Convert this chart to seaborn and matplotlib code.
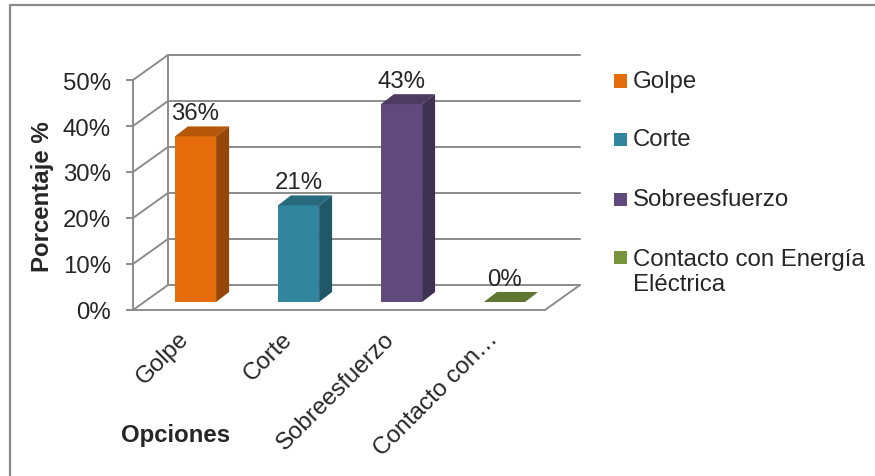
import matplotlib
matplotlib.use("Agg")
import matplotlib.pyplot as plt
import seaborn as sns
from matplotlib.transforms import ScaledTranslation, IdentityTransform
from matplotlib.patches import Polygon, Rectangle
from matplotlib.lines import Line2D
import matplotlib.colors as mcolors

# Chart data
categories = ["Golpe", "Corte", "Sobreesfuerzo", "Contacto con Energía Eléctrica"]
tick_labels = ["Golpe", "Corte", "Sobreesfuerzo", "Contacto con…"]
values = [36, 21, 43, 0]
value_labels = ["36%", "21%", "43%", "0%"]
colors = ["#E46C0A", "#31859C", "#604A7B", "#77933C"]
y_ticks = [0, 10, 20, 30, 40, 50]

sns.set_style("white")
plt.rcParams["font.family"] = ["Liberation Sans", "DejaVu Sans"]

FS = 17.3
GRID = "#8C8C8C"

fig = plt.figure(figsize=(8.75, 4.77), dpi=100)
W, H = 875, 477
ax = fig.add_axes([133 / W, (H - 311) / H, 412 / W, 230 / H])

sns.barplot(x=categories, y=values, hue=categories, palette=colors,
            width=0.4, saturation=1, legend=False, ax=ax, zorder=3)

ax.set_xlim(-0.5, 3.5)
ax.set_ylim(0, 50)

# depth offsets in pixels: bar front, bar depth, back wall
BAR_DX, BAR_DY = 11, 8
DEP_DX, DEP_DY = 13, 10
WALL_DX, WALL_DY = 35, 25


def P(x, y, dx=0, dy=0):
    X, Y = ax.transData.transform((x, y))
    return X + dx, Y + dy


def seg(p0, p1, **kw):
    ln = Line2D([p0[0], p1[0]], [p0[1], p1[1]], transform=IdentityTransform(),
                color=GRID, lw=1.4, clip_on=False, zorder=1, **kw)
    ax.add_line(ln)


# walls and floor
for t in y_ticks:
    seg(P(-0.5, t), P(-0.5, t, WALL_DX, WALL_DY))
    seg(P(-0.5, t, WALL_DX, WALL_DY), P(3.5, t, WALL_DX, WALL_DY))
seg(P(-0.5, 0, WALL_DX, WALL_DY), P(-0.5, 50, WALL_DX, WALL_DY))
seg(P(-0.5, 0), P(3.5, 0))
seg(P(3.5, 0), P(3.5, 0, WALL_DX, WALL_DY))


def shade(c, f):
    r, g, b = mcolors.to_rgb(c)
    return (r * f, g * f, b * f)


shift = ScaledTranslation(BAR_DX / 100, BAR_DY / 100, fig.dpi_scale_trans)
for p, col, v, lab in zip(ax.patches, colors, values, value_labels):
    x0, w, h = p.get_x(), p.get_width(), p.get_height()
    p.set_transform(ax.transData + shift)
    p.set_edgecolor("none")
    L, B = P(x0, 0, BAR_DX, BAR_DY)
    R, T = P(x0 + w, h, BAR_DX, BAR_DY)
    top = Polygon([(L, T), (R, T), (R + DEP_DX, T + DEP_DY), (L + DEP_DX, T + DEP_DY)],
                  closed=True, transform=IdentityTransform(),
                  facecolor=shade(col, 0.8), edgecolor="none", zorder=3, clip_on=False)
    ax.add_patch(top)
    if h > 0:
        side = Polygon([(R, B), (R + DEP_DX, B + DEP_DY), (R + DEP_DX, T + DEP_DY), (R, T)],
                       closed=True, transform=IdentityTransform(),
                       facecolor=shade(col, 0.66), edgecolor="none", zorder=3, clip_on=False)
        ax.add_patch(side)
    cx = x0 + w / 2
    ax.text(cx, v, lab, fontsize=FS, ha="center", va="baseline",
            transform=ax.transData + ScaledTranslation((BAR_DX) / 100, 25 / 100, fig.dpi_scale_trans),
            zorder=5)

# category labels
for i, lab in enumerate(tick_labels):
    ax.text(i, 0, lab, fontsize=FS, rotation=45, ha="right", va="center",
            rotation_mode="anchor",
            transform=ax.transData + ScaledTranslation(1 / 100, -25 / 100, fig.dpi_scale_trans))

ax.set_xlim(-0.5, 3.5)
ax.set_ylim(0, 50)
ax.set_xticks([])
ax.set_yticks(y_ticks)
ax.set_yticklabels([f"{t}%" for t in y_ticks])
ax.set_xlabel("")
ax.set_ylabel("")
for s in ["top", "right", "bottom"]:
    ax.spines[s].set_visible(False)
ax.spines["left"].set_color(GRID)
ax.spines["left"].set_linewidth(1.4)
ax.tick_params(axis="y", left=True, length=5, width=1.4, color=GRID,
               pad=11, labelsize=FS)
ax.patch.set_alpha(0)

fig.text(43 / W, 1 - 197 / H, "Porcentaje %", rotation=90, fontsize=FS,
         fontweight="bold", ha="center", va="center")
fig.text(176 / W, 1 - 436 / H, "Opciones", fontsize=FS, fontweight="bold",
         ha="center", va="center")

# legend
leg_y = [82, 140, 200, 272.5]
for lab, col, y in zip(categories, colors, leg_y):
    sq_y = y if y != 272.5 else 258
    fig.patches.append(Rectangle((614 / W, 1 - (sq_y + 6.5) / H), 13 / W, 13 / H,
                                 transform=fig.transFigure, facecolor=col,
                                 edgecolor="none"))
    text = lab.replace("Energía ", "Energía\n")
    fig.text(633 / W, 1 - y / H, text, fontsize=FS, ha="left", va="center",
             linespacing=1.2)

# outer frame
fig.add_artist(Line2D([10 / W, 10 / W], [0, 1 - 6 / H], transform=fig.transFigure,
                      color="#8A8A8A", lw=1.6))
fig.add_artist(Line2D([10 / W, 1], [1 - 6 / H, 1 - 6 / H], transform=fig.transFigure,
                      color="#8A8A8A", lw=1.6))

fig.savefig("out.png", dpi=100, facecolor="white")
